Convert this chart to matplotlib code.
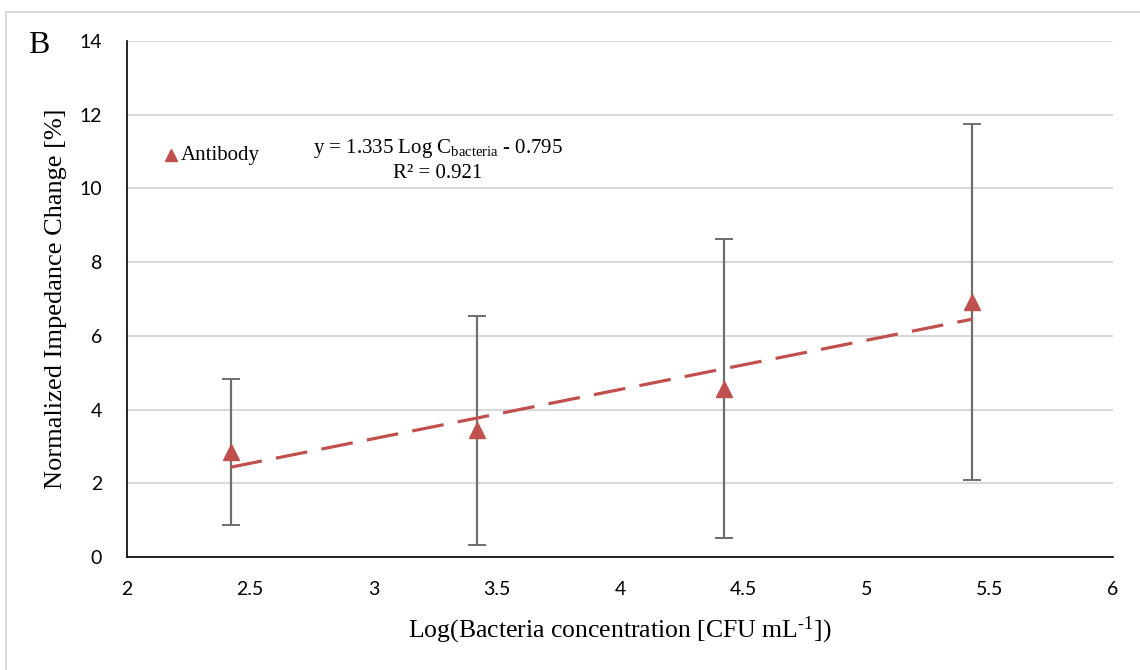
import matplotlib
matplotlib.use("Agg")
import matplotlib.pyplot as plt
from matplotlib.patches import Rectangle
import numpy as np

# Measurements: log concentration, mean normalized impedance change, std dev
log_conc = [2.42, 3.42, 4.42, 5.43]
impedance_change = [2.84, 3.44, 4.57, 6.92]
std_dev = [1.98, 3.11, 4.06, 4.83]

# Linear fit reported for the antibody data
slope, intercept = 1.335, -0.795
r_squared = 0.921

x_ticks = [2, 2.5, 3, 3.5, 4, 4.5, 5, 5.5, 6]
x_tick_labels = ["2", "2.5", "3", "3.5", "4", "4.5", "5", "5.5", "6"]
y_ticks = [0, 2, 4, 6, 8, 10, 12, 14]

RED = "#C0504D"
SERIF = "Liberation Serif"
TICKFONT = "Lato"

plt.rcParams["mathtext.fontset"] = "custom"
plt.rcParams["mathtext.rm"] = SERIF
plt.rcParams["mathtext.it"] = SERIF + ":italic"
plt.rcParams["mathtext.bf"] = SERIF + ":bold"
plt.rcParams["mathtext.default"] = "regular"

fig = plt.figure(figsize=(11.4, 6.7), dpi=100)
W, H = 1140, 670
ax = fig.add_axes([127 / W, 113 / H, (1113 - 127) / W, (557 - 41) / H])

# light frame around the panel
fig.patches.append(Rectangle((6 / W, -0.1), 1.2, 1.1 - 11.5 / H,
                             transform=fig.transFigure, fill=False,
                             edgecolor="#D9D9D9", linewidth=1.5, zorder=0))

ax.set_xlim(2, 6)
ax.set_ylim(0, 14)
ax.set_xticks(x_ticks)
ax.set_xticklabels(x_tick_labels)
ax.set_yticks(y_ticks)
ax.grid(axis="y", color="#D9D9D9", linewidth=1.5)
ax.set_axisbelow(True)
for side in ("top", "right"):
    ax.spines[side].set_visible(False)
for side in ("left", "bottom"):
    ax.spines[side].set_color("black")
    ax.spines[side].set_linewidth(1.2)
ax.tick_params(axis="both", length=0, labelsize=14)
ax.tick_params(axis="x", pad=17)
ax.tick_params(axis="y", pad=18)
for lab in ax.get_xticklabels() + ax.get_yticklabels():
    lab.set_fontfamily(TICKFONT)

# error bars and markers
ax.errorbar(log_conc, impedance_change, yerr=std_dev, fmt="none",
            ecolor="#6E6E6E", elinewidth=1.6, capsize=6.5, capthick=1.4,
            zorder=3)
ax.plot(log_conc, impedance_change, linestyle="none", marker="^",
        markersize=11, color=RED, zorder=4)

# dashed linear trendline
xfit = np.array([log_conc[0], log_conc[-1]])
ax.plot(xfit, slope * xfit + intercept, color=RED, linewidth=2.3,
        dashes=(10, 4.5), zorder=5)

ax.set_xlabel(r"Log(Bacteria concentration [CFU mL$^{\text{-1}}$])",
              fontfamily=SERIF, fontsize=18.5, labelpad=12)
ax.set_ylabel("Normalized Impedance Change [%]", fontfamily=SERIF,
              fontsize=19, labelpad=9)

# legend entry
ax.plot([2.18], [10.9], linestyle="none", marker="^", markersize=9,
        color=RED, clip_on=False)
ax.text(2.22, 10.88, "Antibody", fontfamily=SERIF, fontsize=15,
        va="center", ha="left")

# fit equation
eq = (f"y = {slope:.3f} Log C$_{{\\text{{bacteria}}}}$ - {abs(intercept):.3f}")
ax.text(3.26, 10.96, eq, fontfamily=SERIF, fontsize=15, ha="center",
        va="baseline")
ax.text(3.26, 10.28, f"R² = {r_squared:.3f}", fontfamily=SERIF, fontsize=15,
        ha="center", va="baseline")

fig.text(28 / W, 1 - 53 / H, "B", fontfamily=SERIF, fontsize=23,
         ha="left", va="baseline")

fig.savefig("out.png", dpi=100)
